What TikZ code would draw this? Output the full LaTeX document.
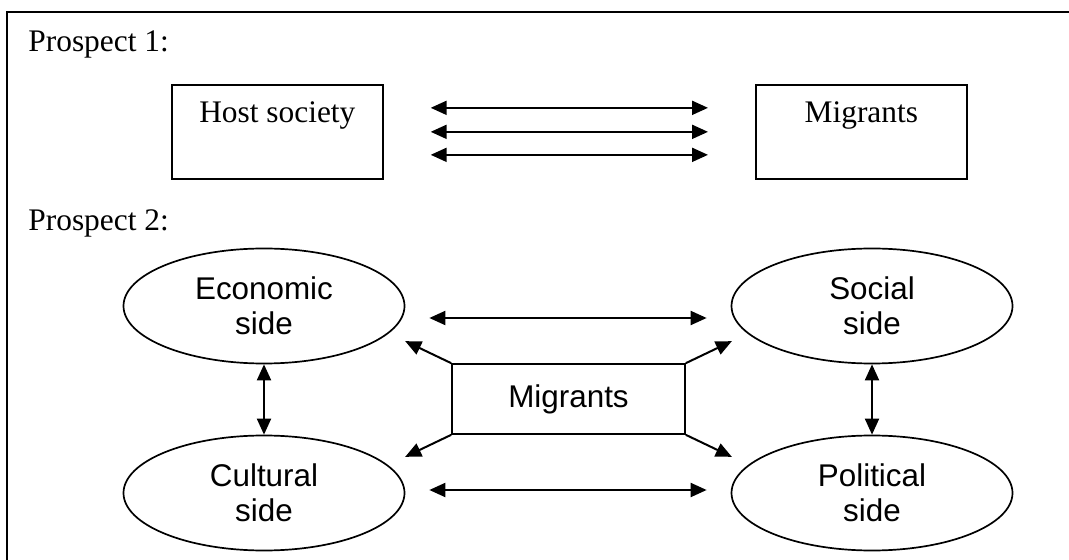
\documentclass[tikz,border=0pt]{standalone}
\usepackage{fontspec}
\setmainfont{Liberation Serif}
\setsansfont{Liberation Sans}
\usetikzlibrary{shapes.geometric,arrows.meta}

\begin{document}
\begin{tikzpicture}
    [%%%%%%%%%%%%%%%%%%%%%%%%%%%%%%
        x=0.5pt,y=-0.5pt,
        outline/.style={draw=black,line width=1pt},
        plainbox/.style={rectangle,draw=black,line width=0.85pt,inner xsep=0pt,inner ysep=0pt,minimum width=105.5pt,text height=19pt,text depth=28pt,anchor=north west,font=\fontsize{15.7}{18}\selectfont},
        sidebox/.style={ellipse,draw=black,line width=0.85pt,inner sep=0pt,minimum width=140.5pt,minimum height=57.5pt,align=center,font=\sffamily\fontsize{15.7}{17.5}\selectfont},
        migbox/.style={rectangle,draw=black,line width=0.85pt,inner sep=0pt,minimum width=116.5pt,minimum height=35pt,font=\sffamily\fontsize{15.7}{17.5}\selectfont},
        heading/.style={anchor=base west,inner sep=0pt,font=\fontsize{15.7}{18}\selectfont},
        twoway/.style={line width=1pt,{Triangle[length=8pt,width=7pt]}-{Triangle[length=8pt,width=7pt]}},
        oneway/.style={line width=1pt,-{Triangle[length=8pt,width=7pt]}}
    ]%%%%%%%%%%%%%%%%%%%%%%%%%%%%%%

\useasboundingbox (0,0) rectangle (1069,560);
\draw[outline] (7,560) -- (7,12) -- (1069,12);

\node[heading] (p1) at (28,52) {Prospect 1:};
\node[plainbox] (host) at (171,84) {Host society};
\node[plainbox] (migtop) at (755,84) {Migrants};

\foreach \dy in {12,0,-11.5}
    \draw[twoway] ([shift={(23.5pt,\dy pt)}]host.east) -- ([shift={(-23.5pt,\dy pt)}]migtop.west);

\node[heading] (p2) at (28,231) {Prospect 2:};
\node[sidebox] (econ) at (264,306) {Economic\\side};
\node[sidebox] (soc) at (872,306) {Social\\side};
\node[sidebox] (cult) at (264,493) {Cultural\\side};
\node[sidebox] (pol) at (872,493) {Political\\side};
\node[migbox] (mig) at (568.5,399) {Migrants};

\draw[twoway] ([shift={(12pt,-6pt)}]econ.east) -- ([shift={(-12pt,-6pt)}]soc.west);
\draw[twoway] ([shift={(12pt,1.5pt)}]cult.east) -- ([shift={(-12pt,1.5pt)}]pol.west);
\draw[twoway] (econ.south) -- (cult.north);
\draw[twoway] (soc.south) -- (pol.north);

\draw[oneway] (mig.north west) -- +(-23pt,11pt);
\draw[oneway] (mig.north east) -- +(23pt,11pt);
\draw[oneway] (mig.south west) -- +(-23pt,-11pt);
\draw[oneway] (mig.south east) -- +(23pt,-11pt);

\end{tikzpicture}
\end{document}
